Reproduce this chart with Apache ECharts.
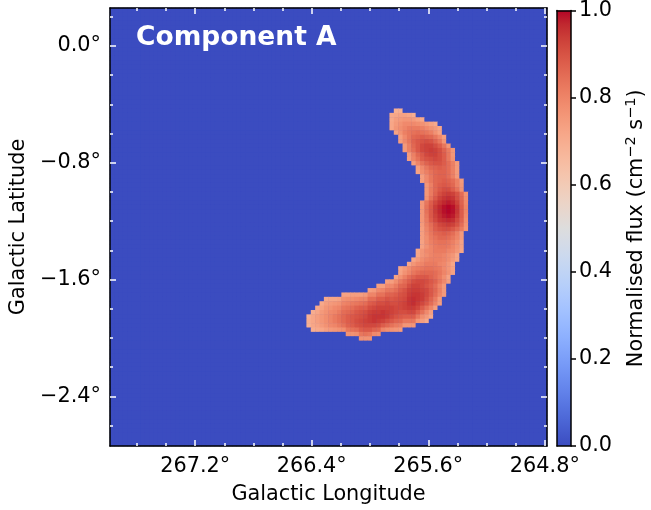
<!DOCTYPE html>
<html><head><meta charset="utf-8">
<script src="https://cdn.jsdelivr.net/npm/echarts@6/dist/echarts.min.js"></script>
<style>html,body{margin:0;padding:0;background:#fff}#c{width:651px;height:510px}</style>
</head><body><div id="c"></div>
<script>
// ---- image geometry (map pixels) ----
const nPix = 100;
const lonEdges = [267.785, 264.785];   // left, right edge of map
const latEdges = [0.26, -2.74];        // top, bottom edge of map

// ---- tick labels ----
const lonMajor = [267.2, 266.4, 265.6, 264.8];
const lonMinor = [267.6, 267.4, 267.0, 266.8, 266.6, 266.2, 266.0, 265.8, 265.4, 265.2, 265.0];
const latMajor = [0.0, -0.8, -1.6, -2.4];
const latMinor = [0.2, -0.2, -0.4, -0.6, -1.0, -1.2, -1.4, -1.8, -2.0, -2.2, -2.6];
const cbarTicks = [0.0, 0.2, 0.4, 0.6, 0.8, 1.0];

// ---- texts ----
const titleText = 'Component A';
const xName = 'Galactic Longitude';
const yName = 'Galactic Latitude';
const cbarName = 'Normalised flux (cm{sup|\u22122} s{sup|\u22121})';

// ---- map values: rows of non-zero pixels (normalised flux, %) ----
const firstRow = 23;
const rowStartCol = [65,64,64,64,64,65,66,66,67,67,68,68,69,70,70,71,71,72,72,72,72,71,71,71,71,71,71,71,71,71,71,71,70,70,69,68,66,66,65,63,61,59,53,49,48,47,46,45,45,45,46,54,57];
const rowFluxPct = [
[69,69],
[71,72,73,73,72,70],
[71,74,75,76,76,75,73,71],
[72,75,77,79,79,79,78,77,75,73,71],
[72,76,78,80,82,82,82,81,79,77,75,72],
[73,77,81,83,84,85,84,83,81,77,73],
[74,79,83,86,87,88,87,86,83,79,74],
[74,79,83,87,89,90,91,90,87,83,76],
[75,81,86,89,92,93,93,91,88,83,76],
[75,81,85,89,92,93,94,93,91,87,82,76],
[75,81,86,89,92,93,93,91,88,83,76],
[74,80,84,88,90,91,92,91,88,83,77],
[74,80,84,87,89,90,90,88,85,81,75],
[74,79,83,86,87,88,87,85,81,75],
[73,78,81,84,86,87,87,85,81,75],
[74,79,83,86,87,87,85,81,75],
[74,79,83,86,87,88,87,85,81,75],
[76,81,86,88,89,88,86,81,76],
[76,82,86,89,91,91,88,84,77],
[76,82,87,91,93,94,93,90,85,77],
[77,84,89,93,95,96,95,91,86,78],
[76,83,88,92,95,97,98,97,93,87,79],
[76,84,89,94,97,99,100,99,95,88,80],
[76,84,89,94,97,99,100,99,95,88,80],
[76,83,89,93,96,98,99,98,94,88,79],
[76,82,88,92,95,96,97,96,92,87,78],
[75,81,85,89,92,93,94,93,90,85,77],
[74,80,84,88,90,91,91,89,86,82,76],
[74,79,83,86,87,88,87,85,81,75],
[74,78,82,84,86,86,85,83,80,75],
[73,78,81,83,84,84,83,81,78,73],
[73,77,80,82,83,83,82,80,77,73],
[72,76,79,80,82,82,82,80,79,76,72],
[72,76,78,80,81,81,80,78,76,72],
[72,75,78,80,81,81,81,80,78,75,72],
[72,76,79,80,82,82,82,80,79,76,72],
[72,75,78,81,82,83,84,84,83,82,79,76,73],
[73,77,80,83,85,86,86,86,85,83,80,77,73],
[73,77,81,85,87,89,89,89,87,85,82,78,73],
[74,74,78,82,85,88,91,92,92,91,89,87,83,79,74],
[74,74,79,79,82,86,87,91,93,93,92,90,88,85,80,75],
[74,75,79,80,83,83,85,88,90,93,94,94,93,92,89,86,81,75],
[73,73,74,74,74,75,80,80,84,84,87,87,88,90,91,94,95,95,94,92,89,85,80,75],
[71,72,72,73,77,78,78,79,80,80,85,85,88,88,90,89,90,91,92,95,96,95,94,91,87,82,75],
[71,74,75,76,77,80,81,82,83,84,85,88,89,91,91,92,91,91,92,93,95,96,94,92,89,85,80,74],
[71,73,76,77,79,80,83,84,85,87,88,88,91,92,93,93,93,93,92,92,93,94,94,92,88,84,80,74],
[70,72,75,77,79,80,82,85,86,87,89,90,91,93,94,94,95,94,93,92,91,91,92,92,88,84,79,74],
[69,72,74,76,78,80,82,84,86,88,89,90,91,92,94,95,95,95,94,92,90,89,88,88,88,83,78,75,71],
[70,72,74,76,78,80,82,84,86,88,89,91,92,93,94,95,94,93,91,89,87,86,83,83,83,76,74,71],
[69,72,73,75,77,79,80,82,84,87,88,90,91,92,92,92,91,88,86,84,82,81,76,76,76],
[70,71,72,74,75,76,77,78,83,84,85,88,89,89,87,86,80,78,77,76,75],
[77,77,78,83,84,83,79,78],
[77,77,77]
];

// ---- colormap (coolwarm) ----
const coolwarm = ['#3b4cc0','#445acc','#4d68d7','#5775e1','#6282ea','#6c8ef1','#779af7','#82a5fb','#8db0fe','#98b9ff','#a3c2ff','#aec9fd','#b8d0f9','#c2d5f4','#ccd9ee','#d5dbe6','#dddddd','#e5d8d1','#ecd3c5','#f1ccb8','#f5c4ac','#f7bba0','#f7b194','#f7a688','#f49a7b','#f18d6f','#ec7f63','#e57058','#de604d','#d55042','#cb3e38','#c0282f','#b40426'];

// ---- build heatmap table ----
const pixIdx = Array.from({length: nPix}, (_, i) => i);
const cells = [];
for (let r = 0; r < nPix; r++) for (let c = 0; c < nPix; c++) cells.push([c, r, 0]);
rowFluxPct.forEach((vals, i) => {
  const r = firstRow + i;
  vals.forEach((v, j) => { cells[r * nPix + rowStartCol[i] + j][2] = v / 100; });
});

const FONT = 'DejaVu Sans';
const degFmt = v => (v < -1e-9 ? '\u2212' : '') + Math.abs(v).toFixed(1) + '\u00B0';
const rect = {left: 110, top: 8, width: 437, height: 438};
const frameLine = {show: true, onZero: false, lineStyle: {color: '#000', width: 1.5}};
const noLine = {show: false, onZero: false};
const majTick = vals => ({show: true, inside: true, length: 6, customValues: vals, lineStyle: {color: '#fff', width: 1.5}});
const minTick = vals => ({show: true, inside: true, length: 3, customValues: vals, lineStyle: {color: '#fff', width: 1.5}});
const lblStyle = {fontFamily: FONT, fontSize: 20.8, color: '#000'};
const nameStyle = {fontFamily: FONT, fontSize: 20.8, color: '#000'};

const lonAxis = (grid, pos, extra) => Object.assign({
  type: 'value', gridIndex: grid, position: pos, min: lonEdges[1], max: lonEdges[0], inverse: true,
  splitLine: {show: false}, axisLabel: {show: false}, axisLine: noLine, z: 10
}, extra);
const latAxis = (grid, pos, extra) => Object.assign({
  type: 'value', gridIndex: grid, position: pos, min: latEdges[1], max: latEdges[0],
  splitLine: {show: false}, axisLabel: {show: false}, axisLine: noLine, z: 10
}, extra);

const option = {
  animation: false,
  backgroundColor: '#fff',
  title: {
    text: titleText, left: 136, top: 25, padding: 0,
    textStyle: {color: '#fff', fontFamily: FONT, fontWeight: 'bold', fontSize: 26.5}
  },
  grid: [
    Object.assign({show: true, backgroundColor: '#3b4cc0', borderWidth: 0}, rect),
    Object.assign({}, rect),
    Object.assign({}, rect),
    {left: 557, top: 8, width: 21, height: 438}
  ],
  visualMap: [{
    type: 'continuous', min: 0, max: 1, seriesIndex: 0, show: false,
    inRange: {color: coolwarm}
  }],
  xAxis: [
    {type: 'category', gridIndex: 0, data: pixIdx, show: false},
    lonAxis(1, 'bottom', {
      axisLine: frameLine, axisTick: majTick(lonMajor),
      axisLabel: {show: true, customValues: lonMajor, formatter: degFmt, margin: 10, ...lblStyle},
      name: xName, nameLocation: 'middle', nameGap: 38, nameTextStyle: nameStyle
    }),
    lonAxis(1, 'top', {axisLine: frameLine, axisTick: majTick(lonMajor)}),
    lonAxis(2, 'bottom', {axisTick: minTick(lonMinor)}),
    lonAxis(2, 'top', {axisTick: minTick(lonMinor)}),
    {type: 'category', gridIndex: 3, data: ['cb'], position: 'bottom', axisLine: frameLine, axisTick: {show: false}, axisLabel: {show: false}, z: 10},
    {type: 'category', gridIndex: 3, data: ['cb'], position: 'top', axisLine: frameLine, axisTick: {show: false}, axisLabel: {show: false}, z: 10}
  ],
  yAxis: [
    {type: 'category', gridIndex: 0, data: pixIdx, inverse: true, show: false},
    latAxis(1, 'left', {
      axisLine: frameLine, axisTick: majTick(latMajor),
      axisLabel: {show: true, customValues: latMajor, formatter: degFmt, margin: 9, ...lblStyle},
      name: yName, nameLocation: 'middle', nameGap: 79, nameRotate: 90, nameTextStyle: nameStyle
    }),
    latAxis(1, 'right', {axisLine: frameLine, axisTick: majTick(latMajor)}),
    latAxis(2, 'left', {axisTick: minTick(latMinor)}),
    latAxis(2, 'right', {axisTick: minTick(latMinor)}),
    {
      type: 'value', gridIndex: 3, position: 'right', min: 0, max: 1, interval: 0.2,
      splitLine: {show: false}, axisLine: frameLine,
      axisTick: {show: true, inside: false, length: 5, lineStyle: {color: '#000', width: 1.5}},
      axisLabel: {show: true, margin: 8, formatter: v => v.toFixed(1), ...lblStyle},
      name: cbarName, nameLocation: 'middle', nameGap: 53, nameRotate: 90,
      nameTextStyle: Object.assign({}, nameStyle, {
        lineHeight: 26,
        rich: {sup: {fontFamily: FONT, fontSize: 14.5, color: '#000', verticalAlign: 'top', lineHeight: 26}}
      }), z: 10
    },
    {type: 'value', gridIndex: 3, position: 'left', min: 0, max: 1, splitLine: {show: false}, axisLine: frameLine, axisTick: {show: false}, axisLabel: {show: false}, z: 10}
  ],
  series: [
    {
      type: 'heatmap', xAxisIndex: 0, yAxisIndex: 0, data: cells,
      progressive: 0, silent: true, emphasis: {disabled: true}
    },
    {
      type: 'bar', xAxisIndex: 5, yAxisIndex: 5, data: cbarTicks.slice(-1), barWidth: '100%', silent: true,
      itemStyle: {color: {type: 'linear', x: 0, y: 1, x2: 0, y2: 0,
        colorStops: coolwarm.map((c, i) => ({offset: i / (coolwarm.length - 1), color: c}))}}
    }
  ]
};
const chart = echarts.init(document.getElementById('c'), null, {renderer: 'canvas'});
chart.setOption(option);
</script>
</body></html>
